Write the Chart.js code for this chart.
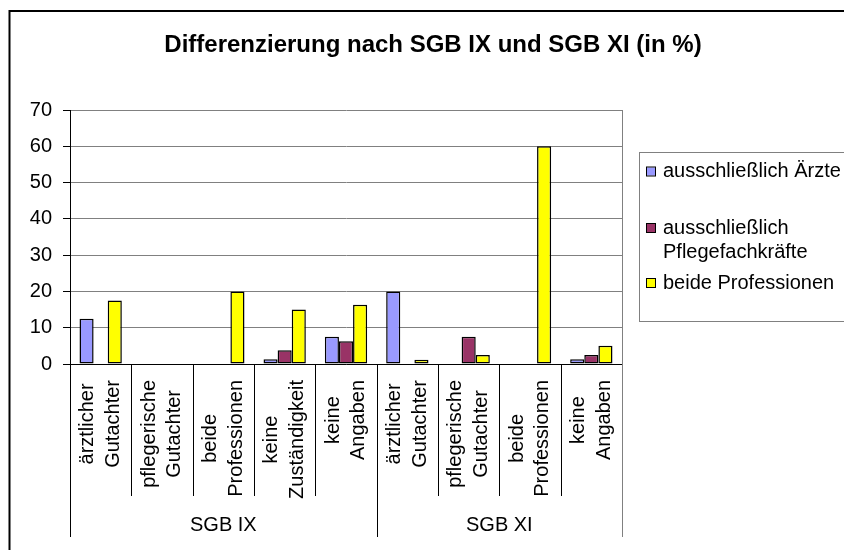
<!DOCTYPE html>
<html>
<head>
<meta charset="utf-8">
<script src="https://cdn.jsdelivr.net/npm/chart.js@4.4.0/dist/chart.umd.min.js"></script>
<style>
  body { margin: 0; background: #fff; }
  #chart { display: block; }
</style>
</head>
<body>
<canvas id="chart" width="844" height="550"></canvas>
<script>
// category labels (two lines each) and the groups they belong to
const categories = [
  ['ärztlicher', 'Gutachter'],
  ['pflegerische', 'Gutachter'],
  ['beide', 'Professionen'],
  ['keine', 'Zuständigkeit'],
  ['keine', 'Angaben'],
  ['ärztlicher', 'Gutachter'],
  ['pflegerische', 'Gutachter'],
  ['beide', 'Professionen'],
  ['keine', 'Angaben']
];
const groups = ['SGB IX', 'SGB XI'];
const groupSizes = [5, 4];

const seriesNames = [
  ['ausschließlich Ärzte'],
  ['ausschließlich', 'Pflegefachkräfte'],
  ['beide Professionen']
];
const aerzte = [12.5, 0, 0, 1.3, 7.5, 20, 0, 0, 1.3];
const pflege = [0, 0, 0, 3.8, 6.3, 0, 7.5, 0, 2.5];
const beide = [17.5, 0, 20, 15, 16.3, 1.2, 2.5, 60, 5];
const yTicks = [0, 10, 20, 30, 40, 50, 60, 70];

const colors = ['#9999FF', '#993366', '#FFFF00'];
const FONT = '"Liberation Sans", Arial, sans-serif';

const extras = {
  id: 'extras',
  afterDraw(chart) {
    const ctx = chart.ctx;
    const x = chart.scales.x;
    const a = chart.chartArea;
    const n = categories.length;

    function edge(i) {
      if (i === 0) return x.left;
      if (i === n) return x.right;
      return (x.getPixelForValue(i - 1) + x.getPixelForValue(i)) / 2;
    }

    ctx.save();

    // outer frame
    ctx.strokeStyle = '#000';
    ctx.lineWidth = 2;
    ctx.beginPath();
    ctx.moveTo(9.5, 560);
    ctx.lineTo(9.5, 11);
    ctx.lineTo(860, 11);
    ctx.stroke();

    // title
    ctx.fillStyle = '#000';
    ctx.font = 'bold 24px ' + FONT;
    ctx.textAlign = 'center';
    ctx.textBaseline = 'alphabetic';
    ctx.fillText('Differenzierung nach SGB IX und SGB XI (in %)', 433, 52);

    // right plot border
    ctx.strokeStyle = '#808080';
    ctx.lineWidth = 1;
    ctx.beginPath();
    ctx.moveTo(Math.round(a.right) + 0.5, a.top);
    ctx.lineTo(Math.round(a.right) + 0.5, 537);
    ctx.stroke();

    // category dividers
    const groupEdges = [0];
    groupSizes.forEach(s => groupEdges.push(groupEdges[groupEdges.length - 1] + s));
    ctx.strokeStyle = '#000';
    for (let i = 0; i < n; i++) {
      const px = Math.round(edge(i)) + 0.5;
      const long = groupEdges.includes(i);
      ctx.beginPath();
      ctx.moveTo(px, a.bottom);
      ctx.lineTo(px, long ? 537 : 496);
      ctx.stroke();
    }

    // category labels, rotated
    ctx.font = '20px ' + FONT;
    ctx.fillStyle = '#000';
    ctx.textBaseline = 'middle';
    ctx.textAlign = 'center';
    categories.forEach((lines, i) => {
      const cx = x.getPixelForValue(i);
      const w = Math.max(...lines.map(l => ctx.measureText(l).width));
      const cy = 380 + w / 2;
      lines.forEach((l, j) => {
        const lx = cx + (j - (lines.length - 1) / 2) * 25.5;
        ctx.save();
        ctx.translate(lx, cy);
        ctx.rotate(-Math.PI / 2);
        ctx.fillText(l, 0, 0);
        ctx.restore();
      });
    });

    // group labels
    ctx.textBaseline = 'alphabetic';
    groups.forEach((g, k) => {
      const gx = (edge(groupEdges[k]) + edge(groupEdges[k + 1])) / 2;
      ctx.fillText(g, gx, 531);
    });

    // legend
    ctx.strokeStyle = '#808080';
    ctx.strokeRect(639.5, 152.5, 260, 169);
    const rowY = [171.5, 228, 283];
    ctx.textAlign = 'left';
    ctx.textBaseline = 'middle';
    chart.data.datasets.forEach((ds, k) => {
      ctx.fillStyle = ds.backgroundColor;
      ctx.fillRect(647, rowY[k] - 4, 8, 8);
      ctx.strokeStyle = '#000';
      ctx.strokeRect(646.5, rowY[k] - 4.5, 9, 9);
      ctx.fillStyle = '#000';
      seriesNames[k].forEach((l, j) => {
        ctx.fillText(l, 663, rowY[k] + j * 24);
      });
    });

    ctx.restore();
  }
};

new Chart(document.getElementById('chart'), {
  type: 'bar',
  data: {
    labels: categories.map(c => c.join(' ')),
    datasets: [
      { label: seriesNames[0].join(' '), data: aerzte, backgroundColor: colors[0] },
      { label: seriesNames[1].join(' '), data: pflege, backgroundColor: colors[1] },
      { label: seriesNames[2].join(' '), data: beide, backgroundColor: colors[2] }
    ].map(d => Object.assign(d, {
      borderColor: '#000',
      borderWidth: 1.5,
      borderSkipped: false,
      categoryPercentage: 0.69,
      barPercentage: 1
    }))
  },
  options: {
    responsive: false,
    animation: false,
    layout: { padding: { left: 0, right: 222, top: 110, bottom: 0 } },
    plugins: {
      legend: { display: false },
      title: { display: false },
      tooltip: { enabled: false }
    },
    scales: {
      x: {
        ticks: { display: false },
        grid: { display: false },
        border: { display: true, color: '#000', width: 1 },
        afterFit: s => { s.height = 186; }
      },
      y: {
        min: 0,
        max: 70,
        afterBuildTicks: s => { s.ticks = yTicks.map(v => ({ value: v })); },
        ticks: {
          color: '#000',
          padding: 11,
          font: { family: FONT, size: 20 }
        },
        grid: {
          color: '#808080',
          tickColor: '#000',
          tickLength: 7
        },
        border: { display: true, color: '#000', width: 1 },
        afterFit: s => { s.width = 70; }
      }
    }
  },
  plugins: [extras]
});
</script>
</body>
</html>
